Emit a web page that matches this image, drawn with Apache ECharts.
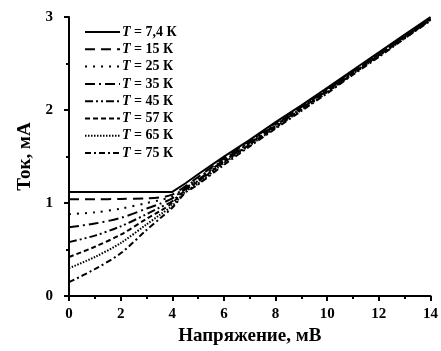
<!DOCTYPE html>
<html>
<head>
<meta charset="utf-8">
<script src="https://cdn.jsdelivr.net/npm/echarts@6/dist/echarts.min.js"></script>
<style>
  html, body { margin: 0; padding: 0; background: #fff; }
  #chart { width: 441px; height: 351px; }
</style>
</head>
<body>
<div id="chart"></div>
<script>
// Voltage grid, mV
const voltage = [0, 1, 2, 3, 3.5, 4, 4.5, 5, 6, 7, 8, 9, 10, 11, 12, 13, 14];

// Current, mA, for each temperature
const i_7_4 = [1.12, 1.12, 1.12, 1.12, 1.12, 1.12, 1.21, 1.31, 1.50, 1.68, 1.87, 2.05, 2.24, 2.43, 2.62, 2.81, 3.00];
const i_15  = [1.04, 1.04, 1.045, 1.05, 1.06, 1.09, 1.18, 1.28, 1.48, 1.67, 1.86, 2.04, 2.23, 2.42, 2.61, 2.80, 2.99];
const i_25  = [0.88, 0.90, 0.94, 1.00, 1.03, 1.07, 1.17, 1.27, 1.47, 1.66, 1.85, 2.03, 2.22, 2.41, 2.60, 2.79, 2.99];
const i_35  = [0.74, 0.78, 0.84, 0.94, 0.99, 1.05, 1.16, 1.25, 1.46, 1.65, 1.84, 2.03, 2.22, 2.41, 2.60, 2.79, 2.98];
const i_45  = [0.58, 0.65, 0.75, 0.88, 0.95, 1.02, 1.15, 1.24, 1.45, 1.64, 1.83, 2.02, 2.21, 2.40, 2.59, 2.78, 2.98];
const i_57  = [0.42, 0.53, 0.66, 0.83, 0.91, 1.00, 1.14, 1.23, 1.44, 1.63, 1.82, 2.01, 2.20, 2.39, 2.59, 2.78, 2.97];
const i_65  = [0.30, 0.42, 0.57, 0.77, 0.87, 0.97, 1.12, 1.21, 1.43, 1.62, 1.81, 2.00, 2.19, 2.39, 2.58, 2.77, 2.97];
const i_75  = [0.15, 0.29, 0.46, 0.71, 0.83, 0.95, 1.11, 1.20, 1.41, 1.61, 1.80, 1.99, 2.18, 2.38, 2.57, 2.77, 2.96];

// Temperature labels and the matching current arrays
const tempLabels = ['7,4', '15', '25', '35', '45', '57', '65', '75'];
const currents = [i_7_4, i_15, i_25, i_35, i_45, i_57, i_65, i_75];

// Dash patterns per curve
const dashes = [
  'solid',
  [10, 6],
  [2, 6],
  [10, 4, 2, 4],
  [8, 3, 2, 3, 2, 3],
  [5, 3],
  [1.5, 1.5],
  [6, 3, 2, 3]
];

const FONT = '"Liberation Serif", "Times New Roman", serif';

const series = currents.map((vals, k) => ({
  name: tempLabels[k],
  type: 'line',
  symbol: 'none',
  smooth: k === 0 ? false : 0.3,
  data: voltage.map((v, j) => [v, vals[j]]),
  lineStyle: { color: '#000', width: 2, type: dashes[k] },
  itemStyle: { color: '#000' },
  z: 10 - k
}));

const chart = echarts.init(document.getElementById('chart'), null, { renderer: 'canvas' });
chart.setOption({
  animation: false,
  backgroundColor: '#fff',
  grid: { left: 69, right: 8, top: 17, bottom: 49, containLabel: false },
  legend: {
    left: 79,
    top: 20,
    orient: 'vertical',
    itemWidth: 35,
    itemHeight: 14,
    itemGap: 3.3,
    data: tempLabels,
    itemStyle: { opacity: 0 },
    formatter: name => '{i|T} = ' + name + ' К',
    textStyle: {
      fontFamily: FONT,
      fontWeight: 'bold',
      fontSize: 14,
      color: '#000',
      padding: [0, 0, 0, -3],
      rich: {
        i: { fontFamily: FONT, fontWeight: 'bold', fontStyle: 'italic', fontSize: 14, color: '#000' }
      }
    }
  },
  xAxis: {
    type: 'value',
    min: 0, max: 14, interval: 2,
    name: 'Напряжение, мВ',
    nameLocation: 'middle',
    nameGap: 30,
    nameTextStyle: { fontFamily: FONT, fontWeight: 'bold', fontSize: 19, color: '#000' },
    axisLine: { show: true, onZero: false, lineStyle: { color: '#000', width: 2 } },
    axisTick: { show: true, inside: false, length: 5, lineStyle: { color: '#000', width: 2 } },
    minorTick: { show: true, splitNumber: 2, length: 3, lineStyle: { color: '#000', width: 2 } },
    axisLabel: { fontFamily: FONT, fontWeight: 'bold', fontSize: 15, color: '#000', margin: 11 },
    splitLine: { show: false }
  },
  yAxis: {
    type: 'value',
    min: 0, max: 3, interval: 1,
    name: 'Ток, мА',
    nameLocation: 'middle',
    nameGap: 32,
    nameTextStyle: { fontFamily: FONT, fontWeight: 'bold', fontSize: 19, color: '#000' },
    axisLine: { show: true, onZero: false, lineStyle: { color: '#000', width: 2 } },
    axisTick: { show: true, inside: false, length: 5, lineStyle: { color: '#000', width: 2 } },
    minorTick: { show: true, splitNumber: 2, length: 3, lineStyle: { color: '#000', width: 2 } },
    axisLabel: { fontFamily: FONT, fontWeight: 'bold', fontSize: 15, color: '#000', margin: 16 },
    splitLine: { show: false }
  },
  series: series
});
</script>
</body>
</html>
